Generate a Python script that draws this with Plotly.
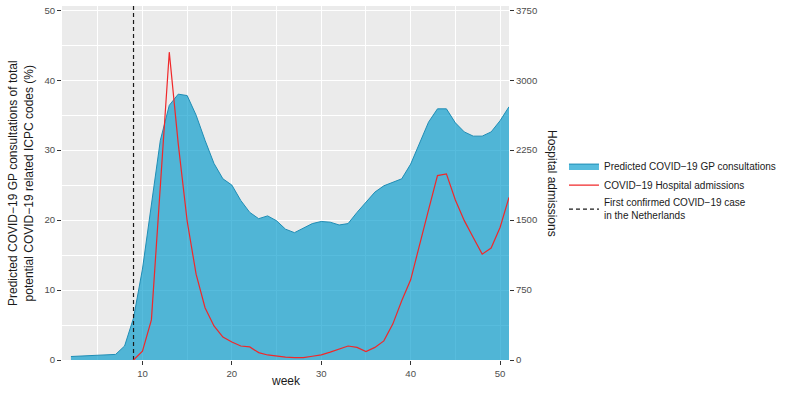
import plotly.graph_objects as go

weeks = list(range(2, 52))
gp_pct = [0.5, 0.55, 0.6, 0.65, 0.75, 0.8, 2.0, 6.0, 13.0, 22.5, 31.4, 36.4, 38.0, 37.8,
          35.0, 31.4, 28.1, 25.9, 25.0, 22.8, 21.1, 20.2, 20.6, 19.9, 18.7, 18.2, 18.8,
          19.5, 19.8, 19.7, 19.3, 19.5, 21.1, 22.5, 24.0, 24.9, 25.4, 25.9, 28.0, 31.1,
          34.0, 35.9, 35.9, 33.9, 32.6, 32.0, 32.0, 32.6, 34.2, 36.2]

hosp_weeks = list(range(9, 52))
hosp_adm = [0, 95, 430, 1850, 3300, 2320, 1490, 920, 560, 365, 245, 193, 150, 140, 79,
            54, 40, 30, 25, 25, 40, 55, 85, 118, 150, 135, 90, 135, 205, 385, 635, 860,
            1250, 1610, 1977, 1995, 1716, 1494, 1314, 1135, 1200, 1421, 1744]

first_case_week = 9

x_ticks = [10, 20, 30, 40, 50]
y_ticks = [0, 10, 20, 30, 40, 50]
y2_ticks = [0, 750, 1500, 2250, 3000, 3750]

y_top = 50.6
scale = 75  # 50 % <-> 3750 admissions

fig = go.Figure()
fig.add_trace(go.Scatter(
    x=weeks, y=gp_pct, mode="lines", fill="tozeroy",
    fillcolor="rgba(0,153,204,0.66)", line=dict(color="#1f8db5", width=1),
    name="Predicted COVID\u221219 GP consultations", legendrank=1))
fig.add_trace(go.Scatter(
    x=[first_case_week, first_case_week], y=[0, y_top], mode="lines",
    line=dict(color="#1a1a1a", width=1.2, dash="4px,3px"),
    name="First confirmed COVID\u221219 case<br>in the Netherlands", legendrank=3))
fig.add_trace(go.Scatter(
    x=hosp_weeks, y=hosp_adm, mode="lines", yaxis="y2",
    line=dict(color="#f0282a", width=1.2),
    name="COVID\u221219 Hospital admissions", legendrank=2))

tick_font = dict(family="Liberation Sans, Arial, sans-serif", size=9.6, color="#4d4d4d")
title_font = dict(family="Liberation Sans, Arial, sans-serif", size=12, color="#1a1a1a")

fig.update_layout(
    width=787, height=394,
    margin=dict(l=62, r=278, t=6, b=34, autoexpand=False),
    paper_bgcolor="white", plot_bgcolor="#ebebeb",
    font=dict(family="Liberation Sans, Arial, sans-serif", size=12, color="#1a1a1a"),
    showlegend=True,
    legend=dict(x=1.123, xanchor="left", y=0.48, yanchor="middle",
                font=dict(size=10, color="#1a1a1a"), bgcolor="rgba(0,0,0,0)",
                itemwidth=30, tracegroupgap=0),
    xaxis=dict(range=[1, 51], tickvals=x_ticks, showgrid=True,
               gridcolor="white", gridwidth=1.1, zeroline=False,
               ticks="outside", ticklen=4, tickcolor="#333333", tickfont=tick_font,
               minor=dict(tickvals=[5, 15, 25, 35, 45], showgrid=True,
                          gridcolor="white", gridwidth=0.5, ticks=""),
               showline=False),
    yaxis=dict(range=[0, y_top], tickvals=y_ticks, showgrid=True,
               gridcolor="white", gridwidth=1.1, zeroline=False,
               ticks="outside", ticklen=4, tickcolor="#333333", tickfont=tick_font,
               minor=dict(tickvals=[5, 15, 25, 35, 45], showgrid=True,
                          gridcolor="white", gridwidth=0.5, ticks=""),
               showline=False),
    yaxis2=dict(range=[0, y_top * scale], tickvals=y2_ticks,
                overlaying="y", side="right", showgrid=False, zeroline=False,
                ticks="outside", ticklen=4, tickcolor="#333333", tickfont=tick_font,
                showline=False),
    annotations=[
        dict(text="week", xref="paper", yref="paper", x=0.5, y=0,
             xanchor="center", yanchor="middle", yshift=-21, showarrow=False,
             font=title_font),
        dict(text="Predicted COVID\u221219 GP consultations of total<br>potential COVID\u221219 related ICPC codes (%)",
             xref="paper", yref="paper", x=0, y=0.5, xanchor="center", yanchor="middle",
             xshift=-41, textangle=-90, showarrow=False, font=title_font),
        dict(text="Hospital admissions", xref="paper", yref="paper",
             x=1, y=0.5, xanchor="center", yanchor="middle", xshift=43,
             textangle=90, showarrow=False, font=title_font),
    ],
)

fig.write_html("out.html", config={"displayModeBar": False},
               post_script="document.body.style.margin='0';")
